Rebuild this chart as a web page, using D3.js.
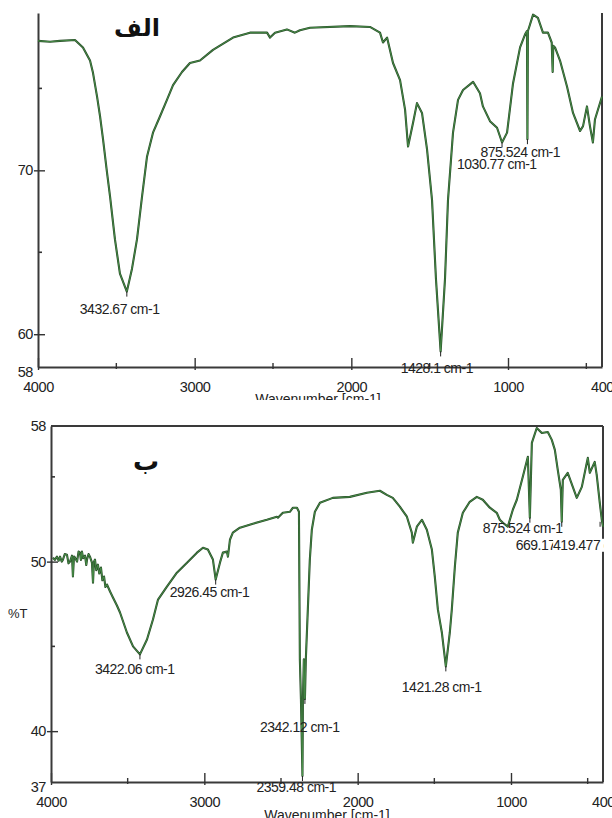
<!DOCTYPE html>
<html>
<head>
<meta charset="utf-8">
<script src="https://cdn.jsdelivr.net/npm/d3@7"></script>
<style>
  html, body { margin: 0; padding: 0; background: #fff; }
  svg { display: block; }
  .tick text { font-family: "Liberation Sans", Arial, sans-serif; fill: #222; }
</style>
</head>
<body>
<svg id="chart" width="612" height="818"></svg>
<script>
// spectrum "الف" : wavenumber (cm-1) and %T
const waveA = [4000, 3923, 3860, 3764, 3713, 3668, 3649, 3623, 3604, 3585, 3560, 3540, 3509, 3477, 3433,
  3400, 3368, 3336, 3304, 3266, 3221, 3177, 3138, 3081, 3030, 2966, 2883, 2755, 2647, 2538, 2519, 2487,
  2411, 2360, 2328, 2264, 2009, 1881, 1817, 1798, 1772, 1734, 1689, 1657, 1638, 1606, 1581, 1549, 1517,
  1485, 1460, 1430, 1402, 1383, 1351, 1319, 1287, 1223, 1179, 1160, 1115, 1070, 1038, 1006, 968, 923,
  891, 879, 876, 873, 866, 840, 809, 777, 745, 721, 715, 711, 700, 668, 623, 585, 540, 521, 496, 477,
  458, 445, 426, 400];
const transA = [77.9, 77.85, 77.9, 77.95, 77.5, 76.7, 75.95, 74.5, 73.3, 71.9, 69.9, 68.4, 65.8, 63.7, 62.6,
  64.0, 65.8, 68.4, 70.85, 72.3, 73.3, 74.3, 75.2, 76.0, 76.55, 76.7, 77.35, 78.1, 78.4, 78.4, 78.1, 78.4,
  78.6, 78.4, 78.55, 78.7, 78.8, 78.75, 78.4, 77.8, 78.1, 76.55, 75.5, 73.7, 71.45, 72.9, 74.1, 73.5, 71.3,
  68.2, 63.4, 58.95, 63.4, 68.2, 72.3, 74.3, 74.9, 75.4, 74.7, 73.9, 73.0, 72.6, 71.7, 72.3, 75.3, 77.5,
  78.3, 78.5, 71.9, 78.5, 78.7, 79.5, 79.3, 78.4, 78.4, 77.8, 76.0, 77.6, 77.5, 76.7, 75.1, 73.5, 72.4, 72.7,
  73.9, 72.7, 71.7, 73.1, 73.7, 74.5];

// spectrum "ب"
const waveB = [3987, 3975, 3961, 3950, 3941, 3930, 3922, 3910, 3896, 3886, 3876, 3863, 3857, 3850, 3844,
  3830, 3820, 3811, 3805, 3798, 3790, 3778, 3770, 3765, 3755, 3746, 3733, 3726, 3720, 3713, 3705, 3694,
  3685, 3674, 3665, 3654, 3645, 3635, 3615,
  3596, 3570, 3550, 3505, 3465, 3420, 3374, 3335, 3302, 3244,
  3179, 3113, 3048, 3009, 2977, 2944, 2926, 2898, 2879, 2853, 2846, 2833, 2814, 2768, 2683, 2592, 2527,
  2520, 2488, 2442, 2422, 2396, 2383, 2377, 2370, 2360, 2357, 2351, 2344, 2338, 2312, 2299, 2279, 2246,
  2162, 2051, 1940, 1855, 1810, 1771, 1725, 1679, 1647, 1640, 1614, 1581, 1549, 1516, 1497, 1477, 1451,
  1425, 1399, 1386, 1366, 1347, 1314, 1269, 1223, 1184, 1138, 1093, 1073, 1053, 1021, 988, 962, 923, 890,
  877, 864, 832, 799, 760, 734, 714, 695, 675, 669, 662, 630, 597, 571, 538, 506, 499, 486, 454, 441, 421,
  408, 400];
const transB = [50.24, 50.1, 50.29, 50.05, 50.29, 50.0, 50.12, 50.45, 50.41, 49.9, 50.0, 50.35, 49.12, 50.3,
  50.24, 50.0, 50.6, 50.53, 50.1, 50.59, 50.2, 50.35, 49.8, 50.12, 50.45, 50.29, 49.94, 48.76, 50.0, 50.12,
  49.5, 49.82, 49.3, 49.65, 48.9, 49.12, 48.5, 48.65, 48.24,
  47.88, 47.41, 47.0, 45.82, 45.0, 44.53,
  45.41, 46.59, 47.76, 48.53, 49.35, 49.94, 50.53, 50.82, 50.71, 50.12, 48.94, 49.94, 50.53, 50.59, 50.29,
  51.29, 51.71, 52.0, 52.24, 52.47, 52.65, 52.59, 52.88, 52.94, 53.18, 53.18, 52.94, 44.24, 41.9, 37.35,
  41.9, 44.24, 41.9, 44.24, 50.12, 51.88, 52.94, 53.47, 53.76, 53.82, 54.06, 54.18, 53.94, 53.76, 53.24,
  52.65, 51.71, 51.12, 52.06, 52.47, 51.88, 50.71, 49.12, 47.18, 45.82, 43.82, 45.82, 47.18, 49.71, 51.71,
  52.88, 53.53, 53.82, 53.65, 53.18, 52.88, 52.47, 52.29, 52.06, 53.06, 53.65, 55.0, 56.18, 52.59, 57.0,
  57.88, 57.59, 57.65, 57.18, 56.59, 55.41, 54.24, 52.35, 54.82, 55.24, 54.41, 53.76, 54.41, 55.82, 56.12,
  55.24, 55.88, 55.12, 53.47, 52.47, 52.06];

// picked peaks (wavenumber, %T of the marker) and their labels
const peakWaveA = [3433, 1430, 876, 1038];
const peakTransA = [62.6, 58.95, 71.9, 71.7];
const peakTextA = ["3432.67 cm-1", "1428.1 cm-1", "875.524 cm-1", "1030.77 cm-1"];

const peakWaveB = [3420, 2926, 2344, 2360, 1425, 877, 669, 419];
const peakTransB = [44.53, 48.94, 41.9, 37.35, 43.82, 52.59, 52.35, 52.35];
const peakTextB = ["3422.06 cm-1", "2926.45 cm-1", "2342.12 cm-1", "2359.48 cm-1", "1421.28 cm-1",
  "875.524 cm-1", "669.176 cm-1", "419.477 cm-1"];

// ticks
const xMajor = [4000, 3000, 2000, 1000, 400];
const xMinor = [3500, 2500, 1500, 500];
const yMajorA = [58, 60, 70];
const yMinorA = [65, 75];
const yMajorB = [37, 40, 50, 58];
const yMinorB = [45, 55];

// label offsets from the marker (layout only)
const offA = [[-47, 22], [-40, 22], [-47, 18], [-45, 27]];
const offB = [[-45, 20], [-46, 17], [-45, 33], [-46, 16], [-44, 26], [-47, 15], [-46, 28], [-47, 28]];

const svg = d3.select('#chart');
const defs = svg.append('defs');
defs.append('clipPath').attr('id', 'clipA')
  .append('rect').attr('x', 0).attr('y', 0).attr('width', 612).attr('height', 400);
defs.append('clipPath').attr('id', 'clipLbl')
  .append('rect').attr('x', 0).attr('y', 0).attr('width', 604).attr('height', 818);

const font = '"Liberation Sans", Arial, sans-serif';
const lineDark = '#274a27', lineGreen = '#4e9a4e';

function panel(g, o) {
  const x = d3.scaleLinear().domain([4000, 400]).range([o.left, o.right]);
  const y = d3.scaleLinear().domain(o.yDomain).range([o.bottom, o.top]);

  // frame
  const frame = g.append('g').attr('stroke', '#3a3a3a').attr('stroke-width', 2).attr('fill', 'none');
  frame.append('line').attr('x1', o.right).attr('x2', o.right).attr('y1', o.top).attr('y2', o.bottom);
  if (o.topLine) frame.append('line').attr('x1', o.left).attr('x2', o.right).attr('y1', o.top).attr('y2', o.top);

  // x axis
  const xa = g.append('g').attr('transform', `translate(0,${o.bottom})`)
    .call(d3.axisBottom(x).tickValues(xMajor).tickFormat(d3.format('d')).tickSizeInner(-9).tickSizeOuter(0));
  xa.select('.domain').attr('stroke', '#3a3a3a').attr('stroke-width', 2);
  xa.selectAll('.tick line').attr('y1', 3).attr('stroke', '#333').attr('stroke-width', 1.4);
  xa.selectAll('.tick').filter(d => d === 400).select('line').remove();
  xa.selectAll('.tick text').attr('y', 15).attr('font-size', 14.5).attr('letter-spacing', -0.4);
  g.append('g').selectAll('line').data(xMinor).join('line')
    .attr('x1', d => x(d)).attr('x2', d => x(d))
    .attr('y1', o.bottom - 4).attr('y2', o.bottom + 2)
    .attr('stroke', '#333').attr('stroke-width', 1.4);

  // y axis
  const ya = g.append('g').attr('transform', `translate(${o.left},0)`)
    .call(d3.axisLeft(y).tickValues(o.yMajor).tickFormat(d3.format('d')).tickSizeInner(-7).tickSizeOuter(0));
  ya.select('.domain').attr('stroke', '#3a3a3a').attr('stroke-width', 2);
  ya.selectAll('.tick line').attr('x1', -4).attr('stroke', '#333').attr('stroke-width', 1.4);
  ya.selectAll('.tick').filter(d => d === o.yDomain[0] || d === o.yDomain[1]).select('line').remove();
  ya.selectAll('.tick text').attr('x', -5).attr('font-size', 14.5).attr('letter-spacing', -0.4);
  ya.selectAll('.tick').filter(d => d === o.yDomain[0]).select('text').attr('dy', '0.62em');
  g.append('g').selectAll('line').data(o.yMinor).join('line')
    .attr('x1', o.left).attr('x2', o.left + 4)
    .attr('y1', d => y(d)).attr('y2', d => y(d))
    .attr('stroke', '#333').attr('stroke-width', 1.6);

  // spectrum
  const pts = d3.zip(o.wave, o.trans);
  const line = d3.line().x(d => x(d[0])).y(d => y(d[1]));
  g.append('path').datum(pts).attr('d', line)
    .attr('fill', 'none').attr('stroke', lineDark).attr('stroke-width', 2.1).attr('stroke-linejoin', 'round');
  g.append('path').datum(pts).attr('d', line)
    .attr('fill', 'none').attr('stroke', lineGreen).attr('stroke-width', 0.8).attr('stroke-linejoin', 'round');

  // peak markers and labels
  const pk = d3.range(o.peakWave.length);
  g.append('g').selectAll('line').data(pk).join('line')
    .attr('x1', i => x(o.peakWave[i])).attr('x2', i => x(o.peakWave[i]))
    .attr('y1', i => y(o.peakTrans[i])).attr('y2', i => y(o.peakTrans[i]) + 5)
    .attr('stroke', '#222').attr('stroke-width', 1);
  const lg = g.append('g').attr('clip-path', 'url(#clipLbl)');
  pk.forEach(i => {
    const t = lg.append('text')
      .attr('x', x(o.peakWave[i]) + o.off[i][0])
      .attr('y', y(o.peakTrans[i]) + o.off[i][1])
      .attr('font-family', font).attr('font-size', 14).attr('letter-spacing', -0.5)
      .attr('fill', '#222')
      .text(o.peakText[i]);
    if (o.bgLast && i === pk.length - 1) {
      const b = t.node().getBBox();
      lg.insert('rect', () => t.node())
        .attr('x', b.x).attr('y', b.y + 2).attr('width', b.width).attr('height', b.height - 3)
        .attr('fill', '#fff');
    }
  });

  // axis title
  g.append('text').attr('x', o.xLabelX).attr('y', o.xLabelY).attr('text-anchor', 'middle')
    .attr('font-family', font).attr('font-size', 14).attr('fill', '#222')
    .text('Wavenumber [cm-1]');

  // panel title
  g.append('text').attr('x', o.titleX).attr('y', o.titleY).attr('text-anchor', 'middle')
    .attr('font-family', '"DejaVu Sans", sans-serif').attr('font-weight', 'bold')
    .attr('font-size', o.titleSize).attr('fill', '#111')
    .text(o.title);
}

panel(svg.append('g').attr('clip-path', 'url(#clipA)'), {
  left: 38, right: 602, top: 13, bottom: 367, yDomain: [58, 79.6], topLine: false,
  yMajor: yMajorA, yMinor: yMinorA, wave: waveA, trans: transA,
  peakWave: peakWaveA, peakTrans: peakTransA, peakText: peakTextA, off: offA, bgLast: false,
  xLabelX: 318, xLabelY: 404, title: 'الف', titleX: 137, titleY: 36, titleSize: 24
});

panel(svg.append('g'), {
  left: 51, right: 603, top: 426, bottom: 782, yDomain: [37, 58], topLine: true,
  yMajor: yMajorB, yMinor: yMinorB, wave: waveB, trans: transB,
  peakWave: peakWaveB, peakTrans: peakTransB, peakText: peakTextB, off: offB, bgLast: true,
  xLabelX: 327, xLabelY: 820, title: 'ب', titleX: 146, titleY: 470, titleSize: 26
});

svg.append('text').attr('x', 8).attr('y', 618)
  .attr('font-family', font).attr('font-size', 13).attr('fill', '#222').text('%T');
</script>
</body>
</html>
